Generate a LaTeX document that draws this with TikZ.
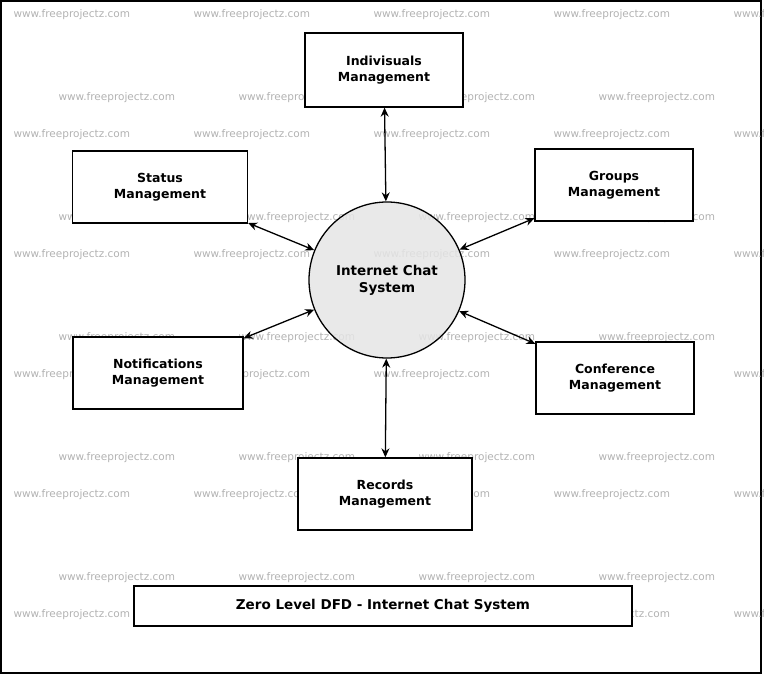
\documentclass[tikz,border=0pt]{standalone}
\usepackage{fontspec}
\setmainfont{DejaVu Sans}
\usetikzlibrary{arrows.meta}
\tikzset{
  procbox/.style={draw=black,line width=1.3pt,fill=white,align=center,font=\fontsize{12.5}{16}\selectfont\bfseries},
  flow/.style={black,line width=1.3pt,{Stealth[length=9pt,width=8pt]}-{Stealth[length=9pt,width=8pt]}},
  wmark/.style={text=black!30,font=\fontsize{10.5}{12}\selectfont,anchor=west}
}
\begin{document}
\begin{tikzpicture}[x=1pt,y=-1pt]
\useasboundingbox (0,0) rectangle (764,677);
\draw[line width=1.3pt] (1,1) rectangle (761,673);
% watermark
\foreach \y in {15,135,255,375,495,615}
  \foreach \x in {10,190,370,550,730}
    \node[wmark] at (\x,\y) {www.freeprojectz.com};
\foreach \y in {98,218,338,458,578}
  \foreach \x in {55,235,415,595}
    \node[wmark] at (\x,\y) {www.freeprojectz.com};
% process
\node[draw=black,line width=1.3pt,fill=black!10,fill opacity=0.85,text opacity=1,circle,minimum size=156pt,align=center,
  font=\fontsize{13.5}{17}\selectfont\bfseries] (chat) at (387,280) {Internet Chat\\System};
% entities
\node[procbox,minimum width=158pt,minimum height=74pt] (indiv) at (384,70) {Indivisuals\\Management};
\node[procbox,minimum width=175pt,minimum height=72pt] (status) at (160,187) {Status\\Management};
\node[procbox,minimum width=158pt,minimum height=72pt] (groups) at (614,185) {Groups\\Management};
\node[procbox,minimum width=170pt,minimum height=72pt] (notif) at (158,373) {Notifications\\Management};
\node[procbox,minimum width=158pt,minimum height=72pt] (conf) at (615,378) {Conference\\Management};
\node[procbox,minimum width=174pt,minimum height=72pt] (records) at (385,494) {Records\\Management};
\node[procbox,minimum width=498pt,minimum height=40pt,font=\fontsize{13.5}{16}\selectfont\bfseries] (title) at (383,606) {Zero Level DFD - Internet Chat System};
% flows
\foreach \n in {indiv,status,groups,notif,conf,records}
  \draw[flow] (chat) -- (\n);
\end{tikzpicture}
\end{document}
